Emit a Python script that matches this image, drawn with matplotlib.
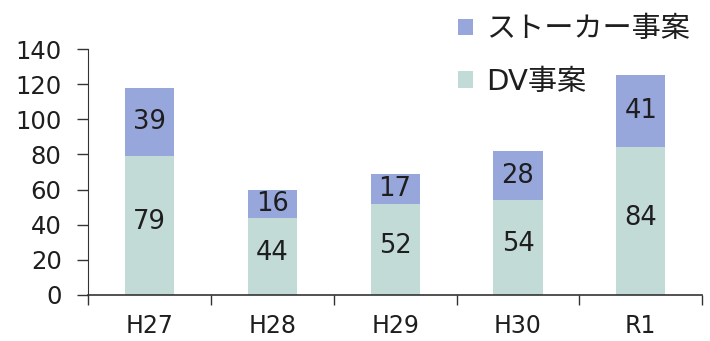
import matplotlib
matplotlib.use("Agg")
import matplotlib.pyplot as plt
from matplotlib.patches import Patch
import numpy as np

plt.rcParams['font.family'] = ['DejaVu Sans', 'Noto Sans CJK JP']

years = ["H27", "H28", "H29", "H30", "R1"]
dv_cases = [79, 44, 52, 54, 84]
stalker_cases = [39, 16, 17, 28, 41]
series_labels = ["ストーカー事案", "DV事案"]

color_stalker = "#97a6db"
color_dv = "#c3dbd7"
text_color = "#1e1e1e"

fig = plt.figure(figsize=(7.10, 3.41), dpi=100)
ax = fig.add_axes([0.124, 0.135, 0.865, 0.721])

x = np.arange(len(years))
width = 0.40
ax.bar(x, dv_cases, width, color=color_dv, edgecolor="none")
ax.bar(x, stalker_cases, width, bottom=dv_cases, color=color_stalker, edgecolor="none")

for xi, d, s in zip(x, dv_cases, stalker_cases):
    ax.text(xi, d / 2 + 2, str(d), ha="center", va="center", fontsize=18.5, color=text_color)
    ax.text(xi, d + s / 2, str(s), ha="center", va="center", fontsize=18.5, color=text_color)

ax.set_xlim(-0.5, len(years) - 0.5)
ax.set_ylim(0, 140)
ax.set_yticks(range(0, 141, 20))
ax.tick_params(axis="y", direction="out", length=8, width=1, pad=11,
               labelsize=17.5, colors="#333333", labelcolor=text_color)

# category labels at centers, tick marks at the boundaries
ax.set_xticks(x)
ax.set_xticklabels(years, fontsize=17, color=text_color)
ax.tick_params(axis="x", which="major", length=0, pad=14)
ax.set_xticks(np.arange(-0.5, len(years)), minor=True)
ax.tick_params(axis="x", which="minor", direction="out", length=7, width=1, color="#333333")

for side in ("top", "right"):
    ax.spines[side].set_visible(False)
ax.spines["left"].set_color("#333333")
ax.spines["bottom"].set_color("#333333")
ax.spines["bottom"].set_linewidth(1.2)

handles = [Patch(facecolor=color_stalker, edgecolor="none"),
           Patch(facecolor=color_dv, edgecolor="none")]
fig.legend(handles, series_labels, loc="upper left", bbox_to_anchor=(0.608, 1.032),
           frameon=False, fontsize=21, handlelength=0.5, handleheight=0.5,
           handletextpad=0.45, labelspacing=0.83, labelcolor=text_color)

fig.savefig("out.png", dpi=100)
